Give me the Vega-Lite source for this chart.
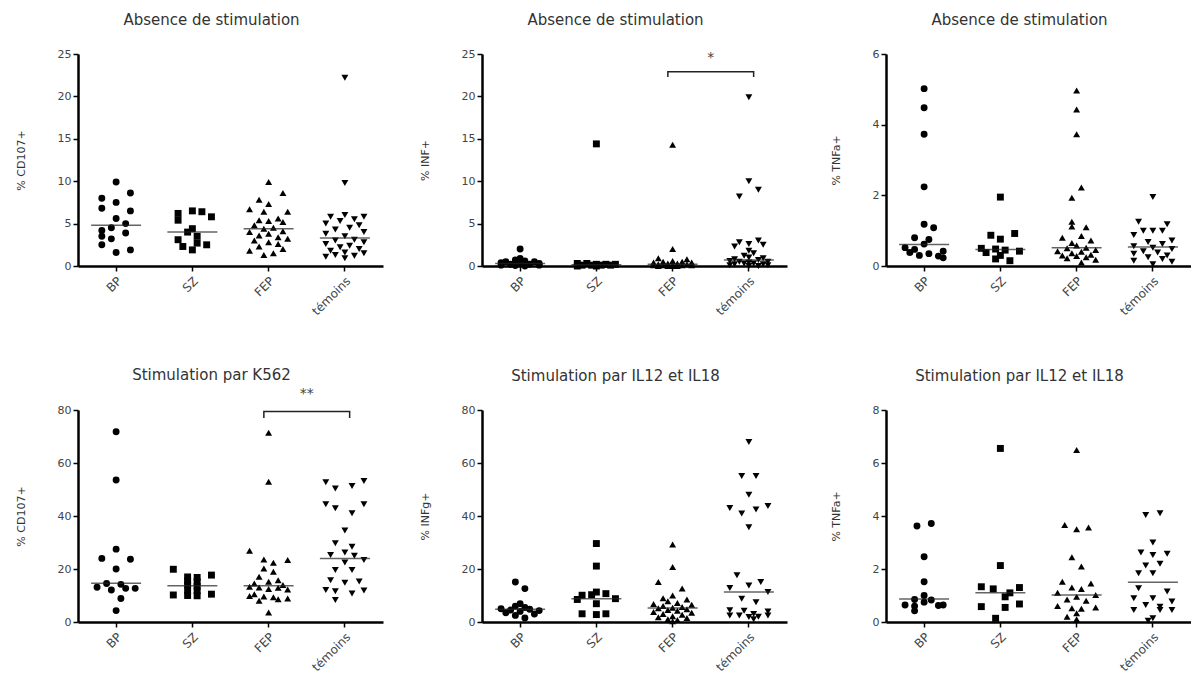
{
"$schema": "https://vega.github.io/schema/vega-lite/v6.json",
"background": "white",
"padding": {"left": 15, "top": 13, "right": 0, "bottom": 0},
"config": {
  "view": {"stroke": null},
  "font": "DejaVu Sans",
  "axis": {"domainColor": "black", "domainWidth": 2.5, "tickColor": "black", "tickWidth": 1.5, "tickSize": 5, "labelColor": "#444", "labelFontSize": 11, "titleColor": "#333", "titleFontSize": 11, "titleFontWeight": "normal", "grid": false, "labelFont": "DejaVu Sans", "titleFont": "DejaVu Sans", "labelPadding": 2},
  "axisX": {"labelAngle": -45, "bandPosition": 0.5, "labelPadding": 4, "labelFontSize": 12},
  "axisY": {"titlePadding": 31},
  "title": {"fontSize": 15, "fontWeight": "normal", "color": "#333", "offset": 20, "dx": -19, "font": "DejaVu Sans"}
},
"datasets": {
"pts": [
{"p":1,"g":"BP","v":9.9,"s":0},{"p":1,"g":"BP","v":8.6,"s":3},{"p":1,"g":"BP","v":8.0,"s":-3},{"p":1,"g":"BP","v":7.5,"s":0},{"p":1,"g":"BP","v":6.8,"s":-3},{"p":1,"g":"BP","v":6.5,"s":3},{"p":1,"g":"BP","v":5.6,"s":0},{"p":1,"g":"BP","v":5.0,"s":2},{"p":1,"g":"BP","v":4.5,"s":-1},{"p":1,"g":"BP","v":4.2,"s":-3},{"p":1,"g":"BP","v":3.9,"s":2},{"p":1,"g":"BP","v":3.5,"s":-3},{"p":1,"g":"BP","v":3.2,"s":-1},{"p":1,"g":"BP","v":2.5,"s":-3},{"p":1,"g":"BP","v":1.9,"s":3},{"p":1,"g":"BP","v":1.6,"s":0},
{"p":1,"g":"SZ","v":6.5,"s":0},{"p":1,"g":"SZ","v":6.4,"s":2},{"p":1,"g":"SZ","v":6.2,"s":-3},{"p":1,"g":"SZ","v":5.8,"s":4},{"p":1,"g":"SZ","v":5.4,"s":-3},{"p":1,"g":"SZ","v":4.4,"s":0},{"p":1,"g":"SZ","v":4.0,"s":-1},{"p":1,"g":"SZ","v":3.5,"s":1},{"p":1,"g":"SZ","v":3.1,"s":-3},{"p":1,"g":"SZ","v":2.7,"s":1},{"p":1,"g":"SZ","v":2.5,"s":3},{"p":1,"g":"SZ","v":2.3,"s":-2},{"p":1,"g":"SZ","v":1.9,"s":0},
{"p":1,"g":"FEP","v":9.9,"s":0},{"p":1,"g":"FEP","v":8.6,"s":3},{"p":1,"g":"FEP","v":7.8,"s":-2},{"p":1,"g":"FEP","v":7.3,"s":0},{"p":1,"g":"FEP","v":6.7,"s":-4},{"p":1,"g":"FEP","v":6.4,"s":-1},{"p":1,"g":"FEP","v":6.4,"s":4},{"p":1,"g":"FEP","v":5.6,"s":2},{"p":1,"g":"FEP","v":5.4,"s":-2},{"p":1,"g":"FEP","v":5.3,"s":0},{"p":1,"g":"FEP","v":5.2,"s":3},{"p":1,"g":"FEP","v":4.8,"s":-3},{"p":1,"g":"FEP","v":4.5,"s":1},{"p":1,"g":"FEP","v":4.4,"s":-1},{"p":1,"g":"FEP","v":4.1,"s":3},{"p":1,"g":"FEP","v":4.0,"s":-4},{"p":1,"g":"FEP","v":3.8,"s":0},{"p":1,"g":"FEP","v":3.6,"s":-2},{"p":1,"g":"FEP","v":3.4,"s":2},{"p":1,"g":"FEP","v":3.2,"s":4},{"p":1,"g":"FEP","v":3.0,"s":-3},{"p":1,"g":"FEP","v":2.8,"s":0},{"p":1,"g":"FEP","v":2.6,"s":2},{"p":1,"g":"FEP","v":2.3,"s":-2},{"p":1,"g":"FEP","v":2.0,"s":3},{"p":1,"g":"FEP","v":1.8,"s":-4},{"p":1,"g":"FEP","v":1.5,"s":1},{"p":1,"g":"FEP","v":1.3,"s":-1},
{"p":1,"g":"témoins","v":22.2,"s":0},{"p":1,"g":"témoins","v":9.8,"s":0},{"p":1,"g":"témoins","v":6.0,"s":0},{"p":1,"g":"témoins","v":5.8,"s":-3},{"p":1,"g":"témoins","v":5.8,"s":4},{"p":1,"g":"témoins","v":5.5,"s":2},{"p":1,"g":"témoins","v":5.3,"s":-1},{"p":1,"g":"témoins","v":5.0,"s":-4},{"p":1,"g":"témoins","v":4.8,"s":3},{"p":1,"g":"témoins","v":4.5,"s":1},{"p":1,"g":"témoins","v":4.3,"s":-2},{"p":1,"g":"témoins","v":4.0,"s":4},{"p":1,"g":"témoins","v":3.8,"s":-4},{"p":1,"g":"témoins","v":3.5,"s":0},{"p":1,"g":"témoins","v":3.1,"s":2},{"p":1,"g":"témoins","v":3.0,"s":-2},{"p":1,"g":"témoins","v":2.8,"s":4},{"p":1,"g":"témoins","v":2.6,"s":-4},{"p":1,"g":"témoins","v":2.4,"s":1},{"p":1,"g":"témoins","v":2.2,"s":-1},{"p":1,"g":"témoins","v":2.0,"s":3},{"p":1,"g":"témoins","v":1.8,"s":-3},{"p":1,"g":"témoins","v":1.6,"s":0},{"p":1,"g":"témoins","v":1.5,"s":4},{"p":1,"g":"témoins","v":1.3,"s":-2},{"p":1,"g":"témoins","v":1.2,"s":2},{"p":1,"g":"témoins","v":1.1,"s":-4},{"p":1,"g":"témoins","v":0.9,"s":0},
{"p":2,"g":"BP","v":2.0,"s":0},{"p":2,"g":"BP","v":0.9,"s":0},{"p":2,"g":"BP","v":0.7,"s":-1},{"p":2,"g":"BP","v":0.6,"s":1},{"p":2,"g":"BP","v":0.5,"s":-3},{"p":2,"g":"BP","v":0.5,"s":3},{"p":2,"g":"BP","v":0.4,"s":-4},{"p":2,"g":"BP","v":0.3,"s":4},{"p":2,"g":"BP","v":0.3,"s":0},{"p":2,"g":"BP","v":0.2,"s":-2},{"p":2,"g":"BP","v":0.2,"s":2},{"p":2,"g":"BP","v":0.1,"s":-4},{"p":2,"g":"BP","v":0.1,"s":4},{"p":2,"g":"BP","v":0.05,"s":-1},{"p":2,"g":"BP","v":0.0,"s":1},
{"p":2,"g":"SZ","v":14.4,"s":0},{"p":2,"g":"SZ","v":0.3,"s":-4},{"p":2,"g":"SZ","v":0.3,"s":-2},{"p":2,"g":"SZ","v":0.2,"s":0},{"p":2,"g":"SZ","v":0.2,"s":2},{"p":2,"g":"SZ","v":0.2,"s":4},{"p":2,"g":"SZ","v":0.1,"s":-3},{"p":2,"g":"SZ","v":0.1,"s":-1},{"p":2,"g":"SZ","v":0.1,"s":1},{"p":2,"g":"SZ","v":0.1,"s":3},{"p":2,"g":"SZ","v":0.0,"s":0},{"p":2,"g":"SZ","v":0.0,"s":-4},
{"p":2,"g":"FEP","v":14.3,"s":0},{"p":2,"g":"FEP","v":2.0,"s":0},{"p":2,"g":"FEP","v":0.9,"s":-3},{"p":2,"g":"FEP","v":0.8,"s":3},{"p":2,"g":"FEP","v":0.6,"s":0},{"p":2,"g":"FEP","v":0.5,"s":-2},{"p":2,"g":"FEP","v":0.5,"s":2},{"p":2,"g":"FEP","v":0.4,"s":-4},{"p":2,"g":"FEP","v":0.4,"s":4},{"p":2,"g":"FEP","v":0.3,"s":-1},{"p":2,"g":"FEP","v":0.3,"s":1},{"p":2,"g":"FEP","v":0.2,"s":-3},{"p":2,"g":"FEP","v":0.2,"s":3},{"p":2,"g":"FEP","v":0.2,"s":0},{"p":2,"g":"FEP","v":0.1,"s":-2},{"p":2,"g":"FEP","v":0.1,"s":2},{"p":2,"g":"FEP","v":0.1,"s":-4},{"p":2,"g":"FEP","v":0.1,"s":4},{"p":2,"g":"FEP","v":0.0,"s":-1},{"p":2,"g":"FEP","v":0.0,"s":1},{"p":2,"g":"FEP","v":0.0,"s":0},{"p":2,"g":"FEP","v":0.0,"s":-3},
{"p":2,"g":"témoins","v":19.9,"s":0},{"p":2,"g":"témoins","v":10.0,"s":0},{"p":2,"g":"témoins","v":9.0,"s":2},{"p":2,"g":"témoins","v":8.2,"s":-2},{"p":2,"g":"témoins","v":3.0,"s":2},{"p":2,"g":"témoins","v":2.8,"s":-2},{"p":2,"g":"témoins","v":2.6,"s":0},{"p":2,"g":"témoins","v":2.5,"s":3},{"p":2,"g":"témoins","v":2.3,"s":-3},{"p":2,"g":"témoins","v":1.8,"s":0},{"p":2,"g":"témoins","v":1.5,"s":1},{"p":2,"g":"témoins","v":1.2,"s":-1},{"p":2,"g":"témoins","v":1.0,"s":0},{"p":2,"g":"témoins","v":0.9,"s":3},{"p":2,"g":"témoins","v":0.8,"s":-3},{"p":2,"g":"témoins","v":0.7,"s":2},{"p":2,"g":"témoins","v":0.6,"s":-4},{"p":2,"g":"témoins","v":0.5,"s":4},{"p":2,"g":"témoins","v":0.5,"s":-2},{"p":2,"g":"témoins","v":0.4,"s":0},{"p":2,"g":"témoins","v":0.3,"s":1},{"p":2,"g":"témoins","v":0.3,"s":-1},{"p":2,"g":"témoins","v":0.2,"s":3},{"p":2,"g":"témoins","v":0.2,"s":-3},{"p":2,"g":"témoins","v":0.1,"s":4},{"p":2,"g":"témoins","v":0.1,"s":-4},{"p":2,"g":"témoins","v":0.0,"s":0},{"p":2,"g":"témoins","v":0.0,"s":2},
{"p":3,"g":"BP","v":5.02,"s":0},{"p":3,"g":"BP","v":4.48,"s":0},{"p":3,"g":"BP","v":3.73,"s":0},{"p":3,"g":"BP","v":2.24,"s":0},{"p":3,"g":"BP","v":1.18,"s":0},{"p":3,"g":"BP","v":1.08,"s":2},{"p":3,"g":"BP","v":0.80,"s":-2},{"p":3,"g":"BP","v":0.75,"s":1},{"p":3,"g":"BP","v":0.62,"s":0},{"p":3,"g":"BP","v":0.52,"s":-4},{"p":3,"g":"BP","v":0.47,"s":-2},{"p":3,"g":"BP","v":0.42,"s":4},{"p":3,"g":"BP","v":0.38,"s":-3},{"p":3,"g":"BP","v":0.35,"s":1},{"p":3,"g":"BP","v":0.30,"s":-1},{"p":3,"g":"BP","v":0.28,"s":3},{"p":3,"g":"BP","v":0.23,"s":4},
{"p":3,"g":"SZ","v":1.95,"s":0},{"p":3,"g":"SZ","v":0.92,"s":3},{"p":3,"g":"SZ","v":0.87,"s":-2},{"p":3,"g":"SZ","v":0.76,"s":0},{"p":3,"g":"SZ","v":0.50,"s":-4},{"p":3,"g":"SZ","v":0.48,"s":-1},{"p":3,"g":"SZ","v":0.45,"s":1},{"p":3,"g":"SZ","v":0.42,"s":4},{"p":3,"g":"SZ","v":0.38,"s":-3},{"p":3,"g":"SZ","v":0.30,"s":0},{"p":3,"g":"SZ","v":0.20,"s":-1},{"p":3,"g":"SZ","v":0.15,"s":2},
{"p":3,"g":"FEP","v":4.97,"s":0},{"p":3,"g":"FEP","v":4.43,"s":0},{"p":3,"g":"FEP","v":3.73,"s":0},{"p":3,"g":"FEP","v":2.22,"s":1},{"p":3,"g":"FEP","v":1.93,"s":-1},{"p":3,"g":"FEP","v":1.25,"s":-1},{"p":3,"g":"FEP","v":1.12,"s":-1},{"p":3,"g":"FEP","v":1.10,"s":2},{"p":3,"g":"FEP","v":0.85,"s":1},{"p":3,"g":"FEP","v":0.80,"s":-3},{"p":3,"g":"FEP","v":0.72,"s":3},{"p":3,"g":"FEP","v":0.65,"s":-1},{"p":3,"g":"FEP","v":0.58,"s":0},{"p":3,"g":"FEP","v":0.52,"s":2},{"p":3,"g":"FEP","v":0.50,"s":-2},{"p":3,"g":"FEP","v":0.45,"s":4},{"p":3,"g":"FEP","v":0.42,"s":-4},{"p":3,"g":"FEP","v":0.40,"s":1},{"p":3,"g":"FEP","v":0.36,"s":-1},{"p":3,"g":"FEP","v":0.32,"s":3},{"p":3,"g":"FEP","v":0.30,"s":-3},{"p":3,"g":"FEP","v":0.28,"s":0},{"p":3,"g":"FEP","v":0.25,"s":2},{"p":3,"g":"FEP","v":0.22,"s":-2},{"p":3,"g":"FEP","v":0.18,"s":4},{"p":3,"g":"FEP","v":0.10,"s":1},
{"p":3,"g":"témoins","v":1.95,"s":0},{"p":3,"g":"témoins","v":1.25,"s":-3},{"p":3,"g":"témoins","v":1.18,"s":3},{"p":3,"g":"témoins","v":1.0,"s":-2},{"p":3,"g":"témoins","v":1.0,"s":0},{"p":3,"g":"témoins","v":1.0,"s":2},{"p":3,"g":"témoins","v":0.88,"s":-4},{"p":3,"g":"témoins","v":0.72,"s":4},{"p":3,"g":"témoins","v":0.68,"s":-1},{"p":3,"g":"témoins","v":0.62,"s":2},{"p":3,"g":"témoins","v":0.56,"s":-4},{"p":3,"g":"témoins","v":0.52,"s":0},{"p":3,"g":"témoins","v":0.48,"s":4},{"p":3,"g":"témoins","v":0.42,"s":-2},{"p":3,"g":"témoins","v":0.38,"s":1},{"p":3,"g":"témoins","v":0.35,"s":-4},{"p":3,"g":"témoins","v":0.30,"s":3},{"p":3,"g":"témoins","v":0.25,"s":-1},{"p":3,"g":"témoins","v":0.20,"s":2},{"p":3,"g":"témoins","v":0.15,"s":-4},{"p":3,"g":"témoins","v":0.12,"s":4},{"p":3,"g":"témoins","v":0.05,"s":0},
{"p":4,"g":"BP","v":71.8,"s":0},{"p":4,"g":"BP","v":53.6,"s":0},{"p":4,"g":"BP","v":27.5,"s":0},{"p":4,"g":"BP","v":24.0,"s":-3},{"p":4,"g":"BP","v":23.7,"s":3},{"p":4,"g":"BP","v":20.0,"s":0},{"p":4,"g":"BP","v":14.5,"s":-2},{"p":4,"g":"BP","v":14.2,"s":1},{"p":4,"g":"BP","v":13.1,"s":-4},{"p":4,"g":"BP","v":12.7,"s":2},{"p":4,"g":"BP","v":12.7,"s":4},{"p":4,"g":"BP","v":12.1,"s":-1},{"p":4,"g":"BP","v":8.9,"s":1},{"p":4,"g":"BP","v":4.3,"s":0},
{"p":4,"g":"SZ","v":19.9,"s":-4},{"p":4,"g":"SZ","v":17.7,"s":4},{"p":4,"g":"SZ","v":17.0,"s":-1},{"p":4,"g":"SZ","v":16.8,"s":1},{"p":4,"g":"SZ","v":15.5,"s":-1},{"p":4,"g":"SZ","v":15.2,"s":1},{"p":4,"g":"SZ","v":14.0,"s":-1},{"p":4,"g":"SZ","v":13.5,"s":1},{"p":4,"g":"SZ","v":12.0,"s":-1},{"p":4,"g":"SZ","v":11.8,"s":1},{"p":4,"g":"SZ","v":10.5,"s":4},{"p":4,"g":"SZ","v":10.2,"s":-4},{"p":4,"g":"SZ","v":10.0,"s":-1},{"p":4,"g":"SZ","v":9.9,"s":1},
{"p":4,"g":"FEP","v":71.4,"s":0},{"p":4,"g":"FEP","v":52.9,"s":0},{"p":4,"g":"FEP","v":26.9,"s":-4},{"p":4,"g":"FEP","v":23.6,"s":-1},{"p":4,"g":"FEP","v":23.4,"s":4},{"p":4,"g":"FEP","v":22.4,"s":1},{"p":4,"g":"FEP","v":20.2,"s":-1},{"p":4,"g":"FEP","v":19.0,"s":1},{"p":4,"g":"FEP","v":17.1,"s":-2},{"p":4,"g":"FEP","v":15.8,"s":2},{"p":4,"g":"FEP","v":15.2,"s":0},{"p":4,"g":"FEP","v":14.5,"s":-3},{"p":4,"g":"FEP","v":14.0,"s":3},{"p":4,"g":"FEP","v":13.3,"s":-4},{"p":4,"g":"FEP","v":13.0,"s":-2},{"p":4,"g":"FEP","v":12.9,"s":2},{"p":4,"g":"FEP","v":12.5,"s":0},{"p":4,"g":"FEP","v":12.3,"s":4},{"p":4,"g":"FEP","v":10.5,"s":-3},{"p":4,"g":"FEP","v":9.8,"s":-4},{"p":4,"g":"FEP","v":9.6,"s":-1},{"p":4,"g":"FEP","v":9.3,"s":1},{"p":4,"g":"FEP","v":8.9,"s":4},{"p":4,"g":"FEP","v":8.6,"s":2},{"p":4,"g":"FEP","v":8.0,"s":-2},{"p":4,"g":"FEP","v":3.6,"s":0},
{"p":4,"g":"témoins","v":53.2,"s":4},{"p":4,"g":"témoins","v":52.7,"s":-4},{"p":4,"g":"témoins","v":51.3,"s":1.5},{"p":4,"g":"témoins","v":50.4,"s":-2},{"p":4,"g":"témoins","v":44.4,"s":-4},{"p":4,"g":"témoins","v":44.4,"s":4},{"p":4,"g":"témoins","v":42.9,"s":-2},{"p":4,"g":"témoins","v":41.0,"s":1.5},{"p":4,"g":"témoins","v":34.5,"s":0},{"p":4,"g":"témoins","v":29.7,"s":-2},{"p":4,"g":"témoins","v":28.4,"s":1.5},{"p":4,"g":"témoins","v":26.2,"s":0},{"p":4,"g":"témoins","v":25.3,"s":-3},{"p":4,"g":"témoins","v":25.0,"s":2},{"p":4,"g":"témoins","v":23.4,"s":4},{"p":4,"g":"témoins","v":22.5,"s":0},{"p":4,"g":"témoins","v":19.6,"s":-2},{"p":4,"g":"témoins","v":19.6,"s":1.5},{"p":4,"g":"témoins","v":15.8,"s":-3},{"p":4,"g":"témoins","v":15.3,"s":3},{"p":4,"g":"témoins","v":14.8,"s":0},{"p":4,"g":"témoins","v":12.1,"s":-4},{"p":4,"g":"témoins","v":11.9,"s":4},{"p":4,"g":"témoins","v":11.6,"s":-2},{"p":4,"g":"témoins","v":10.8,"s":1.5},{"p":4,"g":"témoins","v":8.3,"s":-2},
{"p":5,"g":"BP","v":15.1,"s":-1},{"p":5,"g":"BP","v":12.6,"s":1},{"p":5,"g":"BP","v":6.9,"s":0},{"p":5,"g":"BP","v":6.0,"s":-1},{"p":5,"g":"BP","v":5.5,"s":1},{"p":5,"g":"BP","v":5.0,"s":-4},{"p":5,"g":"BP","v":4.8,"s":2},{"p":5,"g":"BP","v":4.5,"s":-2},{"p":5,"g":"BP","v":4.3,"s":4},{"p":5,"g":"BP","v":4.0,"s":0},{"p":5,"g":"BP","v":3.5,"s":-3},{"p":5,"g":"BP","v":3.0,"s":3},{"p":5,"g":"BP","v":2.5,"s":-1},{"p":5,"g":"BP","v":1.5,"s":1},
{"p":5,"g":"SZ","v":29.6,"s":0},{"p":5,"g":"SZ","v":21.1,"s":0},{"p":5,"g":"SZ","v":11.3,"s":0},{"p":5,"g":"SZ","v":10.7,"s":2},{"p":5,"g":"SZ","v":10.3,"s":-1},{"p":5,"g":"SZ","v":10.1,"s":-3},{"p":5,"g":"SZ","v":8.8,"s":4},{"p":5,"g":"SZ","v":8.5,"s":-4},{"p":5,"g":"SZ","v":6.9,"s":0},{"p":5,"g":"SZ","v":3.1,"s":-3},{"p":5,"g":"SZ","v":3.1,"s":2},{"p":5,"g":"SZ","v":2.8,"s":0},
{"p":5,"g":"FEP","v":29.2,"s":0},{"p":5,"g":"FEP","v":20.8,"s":0},{"p":5,"g":"FEP","v":15.1,"s":-3},{"p":5,"g":"FEP","v":12.6,"s":2},{"p":5,"g":"FEP","v":10.0,"s":0},{"p":5,"g":"FEP","v":9.0,"s":-2},{"p":5,"g":"FEP","v":8.5,"s":3},{"p":5,"g":"FEP","v":7.8,"s":-1},{"p":5,"g":"FEP","v":7.2,"s":1},{"p":5,"g":"FEP","v":6.8,"s":-4},{"p":5,"g":"FEP","v":6.5,"s":4},{"p":5,"g":"FEP","v":6.0,"s":-2},{"p":5,"g":"FEP","v":5.7,"s":2},{"p":5,"g":"FEP","v":5.4,"s":0},{"p":5,"g":"FEP","v":5.2,"s":-3},{"p":5,"g":"FEP","v":4.8,"s":3},{"p":5,"g":"FEP","v":4.5,"s":-1},{"p":5,"g":"FEP","v":4.2,"s":1},{"p":5,"g":"FEP","v":3.8,"s":-4},{"p":5,"g":"FEP","v":3.5,"s":4},{"p":5,"g":"FEP","v":3.0,"s":-2},{"p":5,"g":"FEP","v":2.7,"s":2},{"p":5,"g":"FEP","v":2.2,"s":0},{"p":5,"g":"FEP","v":1.8,"s":-3},{"p":5,"g":"FEP","v":1.5,"s":3},{"p":5,"g":"FEP","v":1.0,"s":-1},{"p":5,"g":"FEP","v":0.8,"s":1},{"p":5,"g":"FEP","v":0.3,"s":0},
{"p":5,"g":"témoins","v":67.9,"s":0},{"p":5,"g":"témoins","v":55.1,"s":-1.5},{"p":5,"g":"témoins","v":55.1,"s":1.5},{"p":5,"g":"témoins","v":48.0,"s":0},{"p":5,"g":"témoins","v":43.8,"s":4},{"p":5,"g":"témoins","v":43.0,"s":-4},{"p":5,"g":"témoins","v":42.5,"s":1.5},{"p":5,"g":"témoins","v":40.9,"s":-1.5},{"p":5,"g":"témoins","v":35.8,"s":0},{"p":5,"g":"témoins","v":17.6,"s":-2.5},{"p":5,"g":"témoins","v":15.1,"s":2.5},{"p":5,"g":"témoins","v":13.8,"s":0},{"p":5,"g":"témoins","v":12.8,"s":-4},{"p":5,"g":"témoins","v":11.3,"s":4},{"p":5,"g":"témoins","v":8.8,"s":-1.5},{"p":5,"g":"témoins","v":7.5,"s":1.5},{"p":5,"g":"témoins","v":4.4,"s":-4},{"p":5,"g":"témoins","v":4.2,"s":-1},{"p":5,"g":"témoins","v":4.0,"s":4},{"p":5,"g":"témoins","v":3.0,"s":1},{"p":5,"g":"témoins","v":2.5,"s":-4},{"p":5,"g":"témoins","v":2.5,"s":4},{"p":5,"g":"témoins","v":2.5,"s":-2},{"p":5,"g":"témoins","v":2.0,"s":2},{"p":5,"g":"témoins","v":1.9,"s":0},{"p":5,"g":"témoins","v":1.0,"s":1},
{"p":6,"g":"BP","v":3.72,"s":1.5},{"p":6,"g":"BP","v":3.62,"s":-1.5},{"p":6,"g":"BP","v":2.46,"s":0},{"p":6,"g":"BP","v":1.52,"s":0},{"p":6,"g":"BP","v":1.0,"s":0},{"p":6,"g":"BP","v":0.85,"s":-2},{"p":6,"g":"BP","v":0.83,"s":1.5},{"p":6,"g":"BP","v":0.75,"s":0},{"p":6,"g":"BP","v":0.64,"s":-4},{"p":6,"g":"BP","v":0.64,"s":4},{"p":6,"g":"BP","v":0.62,"s":3},{"p":6,"g":"BP","v":0.60,"s":-2},{"p":6,"g":"BP","v":0.42,"s":-2},
{"p":6,"g":"SZ","v":6.55,"s":0},{"p":6,"g":"SZ","v":2.13,"s":0},{"p":6,"g":"SZ","v":1.33,"s":-4},{"p":6,"g":"SZ","v":1.30,"s":4},{"p":6,"g":"SZ","v":1.25,"s":-1.5},{"p":6,"g":"SZ","v":1.1,"s":2},{"p":6,"g":"SZ","v":0.95,"s":1},{"p":6,"g":"SZ","v":0.68,"s":4},{"p":6,"g":"SZ","v":0.58,"s":-4},{"p":6,"g":"SZ","v":0.55,"s":1},{"p":6,"g":"SZ","v":0.14,"s":-1},
{"p":6,"g":"FEP","v":6.49,"s":0},{"p":6,"g":"FEP","v":3.66,"s":-2.5},{"p":6,"g":"FEP","v":3.57,"s":2.5},{"p":6,"g":"FEP","v":3.5,"s":0},{"p":6,"g":"FEP","v":2.44,"s":-1},{"p":6,"g":"FEP","v":2.09,"s":1},{"p":6,"g":"FEP","v":1.52,"s":-3},{"p":6,"g":"FEP","v":1.45,"s":3},{"p":6,"g":"FEP","v":1.3,"s":-1},{"p":6,"g":"FEP","v":1.25,"s":1},{"p":6,"g":"FEP","v":1.1,"s":-4},{"p":6,"g":"FEP","v":1.02,"s":4},{"p":6,"g":"FEP","v":0.95,"s":0},{"p":6,"g":"FEP","v":0.85,"s":-2},{"p":6,"g":"FEP","v":0.8,"s":2},{"p":6,"g":"FEP","v":0.6,"s":-4},{"p":6,"g":"FEP","v":0.55,"s":4},{"p":6,"g":"FEP","v":0.52,"s":-1},{"p":6,"g":"FEP","v":0.5,"s":1},{"p":6,"g":"FEP","v":0.33,"s":0},{"p":6,"g":"FEP","v":0.2,"s":-2},{"p":6,"g":"FEP","v":0.1,"s":0},
{"p":6,"g":"témoins","v":4.10,"s":1.5},{"p":6,"g":"témoins","v":4.04,"s":-1.5},{"p":6,"g":"témoins","v":3.0,"s":0},{"p":6,"g":"témoins","v":2.62,"s":-2.5},{"p":6,"g":"témoins","v":2.58,"s":3},{"p":6,"g":"témoins","v":2.53,"s":0},{"p":6,"g":"témoins","v":2.2,"s":1.5},{"p":6,"g":"témoins","v":2.13,"s":-1.5},{"p":6,"g":"témoins","v":1.84,"s":-3},{"p":6,"g":"témoins","v":1.84,"s":0},{"p":6,"g":"témoins","v":1.27,"s":-3},{"p":6,"g":"témoins","v":1.15,"s":3},{"p":6,"g":"témoins","v":0.9,"s":-4},{"p":6,"g":"témoins","v":0.9,"s":0},{"p":6,"g":"témoins","v":0.77,"s":4},{"p":6,"g":"témoins","v":0.64,"s":-1.5},{"p":6,"g":"témoins","v":0.58,"s":1.5},{"p":6,"g":"témoins","v":0.45,"s":-4},{"p":6,"g":"témoins","v":0.45,"s":1.5},{"p":6,"g":"témoins","v":0.45,"s":4},{"p":6,"g":"témoins","v":0.14,"s":0},{"p":6,"g":"témoins","v":0.05,"s":-1}
],
"med": [
{"p":1,"g":"BP","v":4.8},{"p":1,"g":"SZ","v":4.0},{"p":1,"g":"FEP","v":4.4},{"p":1,"g":"témoins","v":3.3},
{"p":2,"g":"BP","v":0.3},{"p":2,"g":"SZ","v":0.15},{"p":2,"g":"FEP","v":0.2},{"p":2,"g":"témoins","v":0.7},
{"p":3,"g":"BP","v":0.61},{"p":3,"g":"SZ","v":0.47},{"p":3,"g":"FEP","v":0.52},{"p":3,"g":"témoins","v":0.54},
{"p":4,"g":"BP","v":14.6},{"p":4,"g":"SZ","v":13.7},{"p":4,"g":"FEP","v":13.7},{"p":4,"g":"témoins","v":24.0},
{"p":5,"g":"BP","v":4.8},{"p":5,"g":"SZ","v":8.8},{"p":5,"g":"FEP","v":5.3},{"p":5,"g":"témoins","v":11.3},
{"p":6,"g":"BP","v":0.87},{"p":6,"g":"SZ","v":1.1},{"p":6,"g":"FEP","v":1.02},{"p":6,"g":"témoins","v":1.5}
],
"brk": [
{"p":2,"g":"FEP","v":22.3,"s":-1,"k":1},{"p":2,"g":"FEP","v":22.9,"s":-1,"k":2},{"p":2,"g":"témoins","v":22.9,"s":1,"k":3},{"p":2,"g":"témoins","v":22.3,"s":1,"k":4},
{"p":4,"g":"FEP","v":77.0,"s":-1,"k":1},{"p":4,"g":"FEP","v":79.4,"s":-1,"k":2},{"p":4,"g":"témoins","v":79.4,"s":1,"k":3},{"p":4,"g":"témoins","v":77.0,"s":1,"k":4}
],
"star": [
{"p":2,"g":"témoins","v":24.5,"t":"*"},
{"p":4,"g":"témoins","v":85.9,"t":"**"}
]
},
"spacing": 51,
"vconcat": [
{"hconcat": [
{"width": 305, "height": 212, "title": "Absence de stimulation", "layer": [
 {"data": {"name": "pts"}, "transform": [{"filter": "datum.p == 1"}], "mark": {"type": "point", "filled": true, "opacity": 1, "color": "black", "size": 48},
  "encoding": {"x": {"field": "g", "type": "nominal", "title": null, "scale": {"domain": ["BP","SZ","FEP","témoins"], "paddingInner": 0, "paddingOuter": 0}},
   "xOffset": {"field": "s", "type": "quantitative", "scale": {"domain": [-8, 8]}},
   "y": {"field": "v", "type": "quantitative", "title": "% CD107+", "scale": {"domain": [0, 25], "nice": false}, "axis": {"values": [0,5,10,15,20,25]}},
   "shape": {"field": "g", "type": "nominal", "scale": {"domain": ["BP","SZ","FEP","témoins"], "range": ["circle","square","triangle-up","triangle-down"]}, "legend": null}}},
 {"data": {"name": "med"}, "transform": [{"filter": "datum.p == 1"}], "mark": {"type": "tick", "orient": "horizontal", "size": 50, "thickness": 1.5, "color": "#222"},
  "encoding": {"x": {"field": "g", "type": "nominal"}, "y": {"field": "v", "type": "quantitative"}}}
]},
{"width": 305, "height": 212, "title": "Absence de stimulation", "layer": [
 {"data": {"name": "pts"}, "transform": [{"filter": "datum.p == 2"}], "mark": {"type": "point", "filled": true, "opacity": 1, "color": "black", "size": 48},
  "encoding": {"x": {"field": "g", "type": "nominal", "title": null, "scale": {"domain": ["BP","SZ","FEP","témoins"], "paddingInner": 0, "paddingOuter": 0}},
   "xOffset": {"field": "s", "type": "quantitative", "scale": {"domain": [-8, 8]}},
   "y": {"field": "v", "type": "quantitative", "title": "% INF+", "scale": {"domain": [0, 25], "nice": false}, "axis": {"values": [0,5,10,15,20,25]}},
   "shape": {"field": "g", "type": "nominal", "scale": {"domain": ["BP","SZ","FEP","témoins"], "range": ["circle","square","triangle-up","triangle-down"]}, "legend": null}}},
 {"data": {"name": "med"}, "transform": [{"filter": "datum.p == 2"}], "mark": {"type": "tick", "orient": "horizontal", "size": 50, "thickness": 1.5, "color": "#222"},
  "encoding": {"x": {"field": "g", "type": "nominal"}, "y": {"field": "v", "type": "quantitative"}}},
 {"data": {"name": "brk"}, "transform": [{"filter": "datum.p == 2"}], "mark": {"type": "line", "color": "#222", "strokeWidth": 1.5},
  "encoding": {"x": {"field": "g", "type": "nominal"}, "xOffset": {"field": "s", "type": "quantitative"}, "y": {"field": "v", "type": "quantitative"}, "order": {"field": "k"}}},
 {"data": {"name": "star"}, "transform": [{"filter": "datum.p == 2"}], "mark": {"type": "text", "fontSize": 14, "color": "#444", "baseline": "middle"},
  "encoding": {"x": {"field": "g", "type": "nominal", "bandPosition": 0}, "y": {"field": "v", "type": "quantitative"}, "text": {"field": "t"}}}
]},
{"width": 305, "height": 212, "title": "Absence de stimulation", "layer": [
 {"data": {"name": "pts"}, "transform": [{"filter": "datum.p == 3"}], "mark": {"type": "point", "filled": true, "opacity": 1, "color": "black", "size": 48},
  "encoding": {"x": {"field": "g", "type": "nominal", "title": null, "scale": {"domain": ["BP","SZ","FEP","témoins"], "paddingInner": 0, "paddingOuter": 0}},
   "xOffset": {"field": "s", "type": "quantitative", "scale": {"domain": [-8, 8]}},
   "y": {"field": "v", "type": "quantitative", "title": "% TNFa+", "scale": {"domain": [0, 6], "nice": false}, "axis": {"values": [0,2,4,6]}},
   "shape": {"field": "g", "type": "nominal", "scale": {"domain": ["BP","SZ","FEP","témoins"], "range": ["circle","square","triangle-up","triangle-down"]}, "legend": null}}},
 {"data": {"name": "med"}, "transform": [{"filter": "datum.p == 3"}], "mark": {"type": "tick", "orient": "horizontal", "size": 50, "thickness": 1.5, "color": "#222"},
  "encoding": {"x": {"field": "g", "type": "nominal"}, "y": {"field": "v", "type": "quantitative"}}}
]}
], "spacing": 99, "bounds": "flush"},
{"hconcat": [
{"width": 305, "height": 212, "title": {"text": "Stimulation par K562", "offset": 4}, "layer": [
 {"data": {"name": "pts"}, "transform": [{"filter": "datum.p == 4"}], "mark": {"type": "point", "filled": true, "opacity": 1, "color": "black", "size": 48},
  "encoding": {"x": {"field": "g", "type": "nominal", "title": null, "scale": {"domain": ["BP","SZ","FEP","témoins"], "paddingInner": 0, "paddingOuter": 0}},
   "xOffset": {"field": "s", "type": "quantitative", "scale": {"domain": [-8, 8]}},
   "y": {"field": "v", "type": "quantitative", "title": "% CD107+", "scale": {"domain": [0, 80], "nice": false}, "axis": {"values": [0,20,40,60,80]}},
   "shape": {"field": "g", "type": "nominal", "scale": {"domain": ["BP","SZ","FEP","témoins"], "range": ["circle","square","triangle-up","triangle-down"]}, "legend": null}}},
 {"data": {"name": "med"}, "transform": [{"filter": "datum.p == 4"}], "mark": {"type": "tick", "orient": "horizontal", "size": 50, "thickness": 1.5, "color": "#222"},
  "encoding": {"x": {"field": "g", "type": "nominal"}, "y": {"field": "v", "type": "quantitative"}}},
 {"data": {"name": "brk"}, "transform": [{"filter": "datum.p == 4"}], "mark": {"type": "line", "color": "#222", "strokeWidth": 1.5},
  "encoding": {"x": {"field": "g", "type": "nominal"}, "xOffset": {"field": "s", "type": "quantitative"}, "y": {"field": "v", "type": "quantitative"}, "order": {"field": "k"}}},
 {"data": {"name": "star"}, "transform": [{"filter": "datum.p == 4"}], "mark": {"type": "text", "fontSize": 14, "color": "#444", "baseline": "middle"},
  "encoding": {"x": {"field": "g", "type": "nominal", "bandPosition": 0}, "y": {"field": "v", "type": "quantitative"}, "text": {"field": "t"}}}
]},
{"width": 305, "height": 212, "title": "Stimulation par IL12 et IL18", "layer": [
 {"data": {"name": "pts"}, "transform": [{"filter": "datum.p == 5"}], "mark": {"type": "point", "filled": true, "opacity": 1, "color": "black", "size": 48},
  "encoding": {"x": {"field": "g", "type": "nominal", "title": null, "scale": {"domain": ["BP","SZ","FEP","témoins"], "paddingInner": 0, "paddingOuter": 0}},
   "xOffset": {"field": "s", "type": "quantitative", "scale": {"domain": [-8, 8]}},
   "y": {"field": "v", "type": "quantitative", "title": "% INFg+", "scale": {"domain": [0, 80], "nice": false}, "axis": {"values": [0,20,40,60,80]}},
   "shape": {"field": "g", "type": "nominal", "scale": {"domain": ["BP","SZ","FEP","témoins"], "range": ["circle","square","triangle-up","triangle-down"]}, "legend": null}}},
 {"data": {"name": "med"}, "transform": [{"filter": "datum.p == 5"}], "mark": {"type": "tick", "orient": "horizontal", "size": 50, "thickness": 1.5, "color": "#222"},
  "encoding": {"x": {"field": "g", "type": "nominal"}, "y": {"field": "v", "type": "quantitative"}}}
]},
{"width": 305, "height": 212, "title": "Stimulation par IL12 et IL18", "layer": [
 {"data": {"name": "pts"}, "transform": [{"filter": "datum.p == 6"}], "mark": {"type": "point", "filled": true, "opacity": 1, "color": "black", "size": 48},
  "encoding": {"x": {"field": "g", "type": "nominal", "title": null, "scale": {"domain": ["BP","SZ","FEP","témoins"], "paddingInner": 0, "paddingOuter": 0}},
   "xOffset": {"field": "s", "type": "quantitative", "scale": {"domain": [-8, 8]}},
   "y": {"field": "v", "type": "quantitative", "title": "% TNFa+", "scale": {"domain": [0, 8], "nice": false}, "axis": {"values": [0,2,4,6,8]}},
   "shape": {"field": "g", "type": "nominal", "scale": {"domain": ["BP","SZ","FEP","témoins"], "range": ["circle","square","triangle-up","triangle-down"]}, "legend": null}}},
 {"data": {"name": "med"}, "transform": [{"filter": "datum.p == 6"}], "mark": {"type": "tick", "orient": "horizontal", "size": 50, "thickness": 1.5, "color": "#222"},
  "encoding": {"x": {"field": "g", "type": "nominal"}, "y": {"field": "v", "type": "quantitative"}}}
]}
], "spacing": 99, "bounds": "flush"}
]
}
